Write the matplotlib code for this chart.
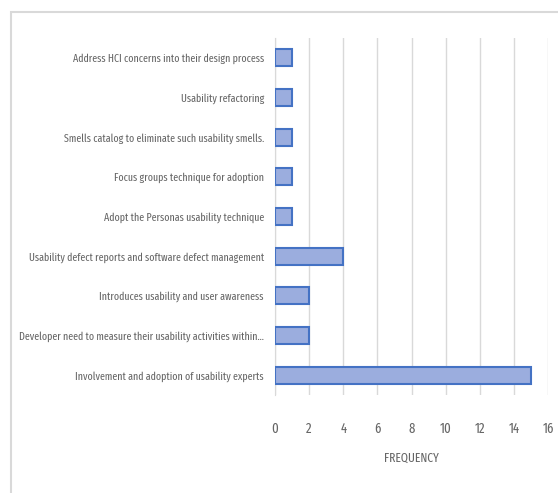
"""Usability practices frequency bar chart."""

import matplotlib.pyplot as plt
from matplotlib.patches import Rectangle

plt.rcParams["font.family"] = ["Fira Sans Extra Condensed", "DejaVu Sans"]

categories = [
    "Involvement and adoption of usability experts",
    "Developer need to measure their usability activities within...",
    "Introduces usability and user awareness",
    "Usability defect reports and software defect management",
    "Adopt the Personas usability technique",
    "Focus groups technique for adoption",
    "Smells catalog to eliminate such usability smells.",
    "Usability refactoring",
    "Address HCI concerns into their design process",
]
frequency = [15, 2, 2, 4, 1, 1, 1, 1, 1]
x_ticks = [0, 2, 4, 6, 8, 10, 12, 14, 16]

W, H = 558, 493
fig = plt.figure(figsize=(W / 100, H / 100), dpi=100)

# chart border (cut off at right and bottom like the screenshot)
fig.patches.append(
    Rectangle((11 / W, -0.1), 1.2, 1 - 12 / H + 0.1, transform=fig.transFigure,
              fill=False, edgecolor="#d9d9d9", linewidth=1.5)
)

ax = fig.add_axes([275 / W, 1 - 395 / H, 273 / W, (395 - 38) / H])
ax.barh(range(len(categories)), frequency, height=0.43,
        color="#9badde", edgecolor="#4472c4", linewidth=1.5, zorder=3)

ax.set_xlim(0, 16)
ax.set_ylim(-0.5, len(categories) - 0.5)
ax.set_xticks(x_ticks)
ax.set_yticks(range(len(categories)))
ax.set_yticklabels(categories)
ax.grid(axis="x", color="#d9d9d9", linewidth=1, zorder=0)
for side in ("top", "right", "bottom"):
    ax.spines[side].set_visible(False)
ax.spines["left"].set_color("#d9d9d9")
ax.tick_params(axis="both", length=0, colors="#666666", labelsize=7.8)
ax.tick_params(axis="x", pad=19, labelsize=10)
ax.tick_params(axis="y", pad=8)
ax.set_xlabel("FREQUENCY", color="#666666", fontsize=9, labelpad=12)

fig.savefig("out.png", dpi=100)
